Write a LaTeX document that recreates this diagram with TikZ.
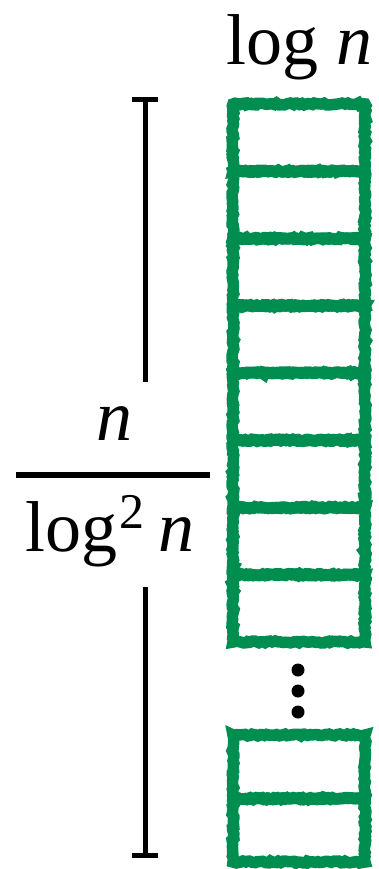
\documentclass[tikz,border=0pt]{standalone}
\usepackage{fontspec}
\setmainfont{Liberation Serif}
\usetikzlibrary{decorations.pathmorphing}
\definecolor{cellgreen}{RGB}{0,142,80}
\tikzset{
  cell/.style={draw=cellgreen, line width=11.5pt, minimum width=132pt, inner sep=0pt,
    decorate, decoration={random steps, segment length=2.5pt, amplitude=1pt}},
  topcell/.style={cell, minimum height=67.25pt},
  botcell/.style={cell, minimum height=63.5pt},
  bar/.style={line width=5pt, black},
  lbl/.style={inner sep=0pt, anchor=base, font=\fontsize{72}{80}\selectfont},
  dot/.style={circle, fill=black, minimum size=13pt, inner sep=0pt}
}
\begin{document}
\begin{tikzpicture}[x=1pt, y=-1pt]
\useasboundingbox (0,0) rectangle (379,869);
% header
\node[lbl] (head) at (299,65) {log \textit{n}};
% stack of cells
\foreach \i in {1,...,8} {
  \node[topcell] (b\i) at (299, {104+67.25*(\i-0.5)}) {};
}
\node[dot] (d1) at (298,670) {};
\node[dot] (d2) at (298,691) {};
\node[dot] (d3) at (298,712) {};
\node[botcell] (b9) at (299,766.75) {};
\node[botcell] (b10) at (299,830.25) {};
% fraction label
\node[lbl] (num) at (114,440) {\textit{n}};
\node[lbl, anchor=base west] (den) at (25,551) {log\hspace{2pt}\raisebox{23pt}{\fontsize{50}{50}\selectfont 2}\hspace{14pt}\textit{n}};
\coordinate (fl) at (16,475);
\coordinate (fr) at (210,475);
\draw[line width=6pt] (fl) -- (fr);
% dimension bar
\coordinate (t0) at (145,100);
\coordinate (t1) at (145,382);
\coordinate (u0) at (145,587);
\coordinate (u1) at (145,855);
\coordinate (tl) at (132,100);
\coordinate (tr) at (158,100);
\coordinate (ul) at (132,855);
\coordinate (ur) at (158,855);
\draw[bar] (t0) -- (t1);
\draw[bar] (u0) -- (u1);
\draw[bar] (tl) -- (tr);
\draw[bar] (ul) -- (ur);
\end{tikzpicture}
\end{document}
